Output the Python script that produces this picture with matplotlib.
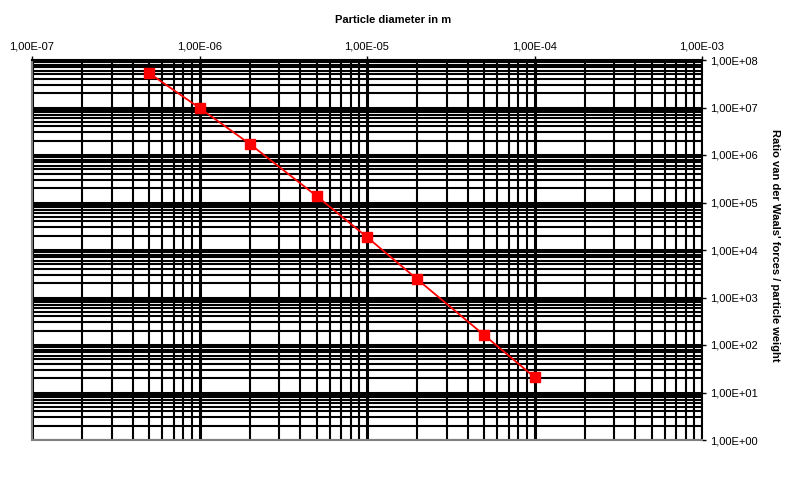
import matplotlib.pyplot as plt
import matplotlib.ticker as mticker
import numpy as np

# data
diameter = [5e-7, 1e-6, 2e-6, 5e-6, 1e-5, 2e-5, 5e-5, 1e-4]
ratio = [5.3e7, 9.8e6, 1.7e6, 1.37e5, 1.87e4, 2.4e3, 162, 21]

x_label = 'Particle diameter in m'
y_label = "Ratio van der Waals' forces / particle weight"
x_ticks = [1e-7, 1e-6, 1e-5, 1e-4, 1e-3]
y_ticks = [1e0, 1e1, 1e2, 1e3, 1e4, 1e5, 1e6, 1e7, 1e8]

plt.rcParams['font.family'] = ['Liberation Sans', 'DejaVu Sans']


def sci_comma(v, pos):
       return ('%.2E' % v).replace('.', ',')


fig = plt.figure(figsize=(7.99, 4.79), dpi=100)
ax = fig.add_axes([32/799, 1-440/479, 670/799, 380/479])

ax.plot(diameter, ratio, color='#ff0000', lw=1.3, marker='s', ms=6.5,
        markeredgecolor='#ff0000', markerfacecolor='#ff0000', zorder=5)

ax.set_xscale('log')
ax.set_yscale('log')
ax.set_xlim(x_ticks[0], x_ticks[-1])
ax.set_ylim(y_ticks[0], y_ticks[-1])

ax.xaxis.set_major_locator(mticker.FixedLocator(x_ticks))
ax.yaxis.set_major_locator(mticker.FixedLocator(y_ticks))
ax.xaxis.set_minor_locator(mticker.LogLocator(base=10, subs=np.arange(2, 10), numticks=20))
ax.yaxis.set_minor_locator(mticker.LogLocator(base=10, subs=np.arange(2, 10), numticks=20))
ax.xaxis.set_major_formatter(mticker.FuncFormatter(sci_comma))
ax.yaxis.set_major_formatter(mticker.FuncFormatter(sci_comma))
ax.xaxis.set_minor_formatter(mticker.NullFormatter())
ax.yaxis.set_minor_formatter(mticker.NullFormatter())

ax.grid(which='major', color='black', lw=2.2)
ax.grid(which='minor', color='black', lw=1.5)
ax.set_axisbelow(True)

ax.xaxis.tick_top()
ax.yaxis.tick_right()
ax.xaxis.set_label_position('top')
ax.yaxis.set_label_position('right')
ax.tick_params(which='major', direction='out', length=3, width=1, labelsize=8)
ax.tick_params(axis='x', which='major', pad=3)
ax.tick_params(axis='y', which='major', pad=3)
ax.tick_params(which='minor', length=0)

for s in ['left', 'bottom']:
       ax.spines[s].set_color('#808080')
       ax.spines[s].set_linewidth(1.5)
for s in ['top', 'right']:
       ax.spines[s].set_color('black')
       ax.spines[s].set_linewidth(1.5)

ax.set_xlabel(x_label, fontsize=8, fontweight='bold')
ax.set_ylabel(y_label, fontsize=8, fontweight='bold', rotation=-90)
# Excel puts the titles a little off-centre
ax.xaxis.set_label_coords(0.539, 1 + 40/380)
ax.yaxis.set_label_coords(1 + 73/670, 0.513)
ax.yaxis.label.set_verticalalignment('center')
ax.xaxis.label.set_verticalalignment('center')

fig.savefig('out.png', dpi=100)
